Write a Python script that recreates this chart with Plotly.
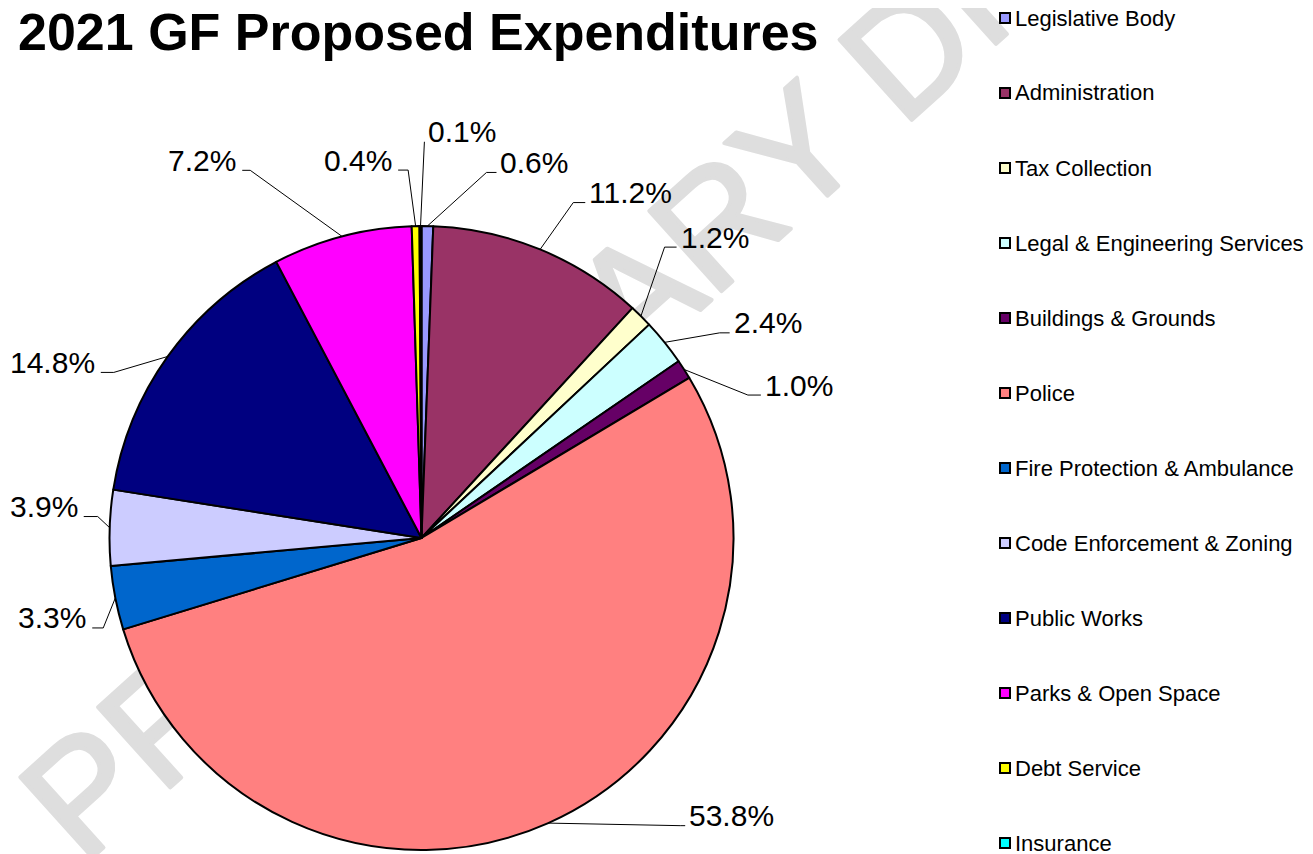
import math
import base64
import plotly.graph_objects as go

# ---------------- data ----------------
categories = [
    "Legislative Body", "Administration", "Tax Collection",
    "Legal & Engineering Services", "Buildings & Grounds", "Police",
    "Fire Protection & Ambulance", "Code Enforcement & Zoning",
    "Public Works", "Parks & Open Space", "Debt Service", "Insurance",
]
shares = [0.6, 11.2, 1.2, 2.4, 1.0, 53.8, 3.3, 3.9, 14.8, 7.2, 0.4, 0.1]
colors = [
    "#9999FF", "#993366", "#FFFFCC", "#CCFFFF", "#660066", "#FF8080",
    "#0066CC", "#CCCCFF", "#000080", "#FF00FF", "#FFFF00", "#00FFFF",
]
title_text = "2021 GF Proposed Expenditures"
watermark_text = "PRELIMINARY DRAFT"

# ---------------- layout constants (page pixels) ----------------
W, H = 1313, 854
OFF = 8                      # default page body margin
FW, FH = W - OFF, H - OFF    # figure size
CX, CY, RAD = 421.5, 538.0, 312.0
# label leader placement: angle nudge (deg), radial factor for elbow, tail length
lbl_nudge = [9.0, 2.0, -4.8, 4.3, 9.05, -18.0, -4.7, 1.9, -7.3, -10.2, -1.0, 0.6]
lbl_dist = [1.19, 1.18, 1.215, 1.16, 1.142, 1.24, 1.06, 1.04, 1.12, 1.30, 1.18, 1.27]
lbl_tail = [10, 12, 12, 10, 13, 5, 11, 14, 13, 8, 10, 0]
LEG_X, LEG_Y0, LEG_DY = 1005, 18, 75
FONT = "Liberation Sans, Arial, sans-serif"


def px(x):
    return (x - OFF) / FW


def py(y):
    return 1 - (y - OFF) / FH


fig = go.Figure()

fig.add_trace(go.Pie(
    labels=categories,
    values=shares,
    sort=False,
    direction="clockwise",
    rotation=0,
    marker=dict(colors=colors, line=dict(color="black", width=2)),
    textinfo="none",
    hoverinfo="label+value",
    showlegend=False,
    domain=dict(x=[px(CX - RAD), px(CX + RAD)], y=[py(CY + RAD), py(CY - RAD)]),
))

shapes = []
annotations = []

# ---------------- legend (drawn from categories / colors) ----------------
for i, (name, col) in enumerate(zip(categories, colors)):
    yc = LEG_Y0 + LEG_DY * i
    shapes.append(dict(
        type="rect", xref="paper", yref="paper",
        x0=px(LEG_X - 5), x1=px(LEG_X + 5), y0=py(yc + 5), y1=py(yc - 5),
        fillcolor=col, line=dict(color="black", width=2),
    ))
    annotations.append(dict(
        text=name, xref="paper", yref="paper",
        x=px(LEG_X + 8), y=py(yc), xanchor="left", yanchor="middle",
        showarrow=False, font=dict(family=FONT, size=22, color="black"),
    ))

# ---------------- labels with leader lines ----------------
total = sum(shares)
cum = 0.0
for i, v in enumerate(shares):
    mid = (cum + v / 2) / total * 360.0
    cum += v
    t = math.radians(mid)
    ex, ey = CX + RAD * math.sin(t), CY - RAD * math.cos(t)
    ang = mid + lbl_nudge[i]
    t2 = math.radians(ang)
    bx = CX + RAD * lbl_dist[i] * math.sin(t2)
    by = CY - RAD * lbl_dist[i] * math.cos(t2)
    right = ang % 360 < 180
    tail = lbl_tail[i] if right else -lbl_tail[i]
    tx = bx + tail
    shapes.append(dict(
        type="path", xref="paper", yref="paper",
        path=f"M {px(ex)} {py(ey)} L {px(bx)} {py(by)} L {px(tx)} {py(by)}",
        line=dict(color="black", width=1),
    ))
    annotations.append(dict(
        text=f"{v:.1f}%", xref="paper", yref="paper",
        x=px(tx + (2 if right else -4)), y=py(by - 10),
        xanchor="left" if right else "right", yanchor="middle",
        showarrow=False, font=dict(family=FONT, size=30, color="black"),
    ))

# ---------------- watermark (behind the pie) ----------------
svg = (
    f'<svg xmlns="http://www.w3.org/2000/svg" width="{FW}" height="{FH}">'
    f'<text transform="translate({83 - OFF},{866 - OFF}) rotate(-42)" x="0" y="0" '
    f'text-anchor="start" font-family="Liberation Sans, Arial, sans-serif" '
    f'font-size="157" fill="#dedede" stroke="#dedede" stroke-width="4" '
    f'stroke-linejoin="round">{watermark_text}</text></svg>'
)
wm_src = "data:image/svg+xml;base64," + base64.b64encode(svg.encode()).decode()

fig.update_layout(
    width=FW, height=FH,
    margin=dict(l=0, r=0, t=0, b=0),
    paper_bgcolor="white",
    plot_bgcolor="rgba(0,0,0,0)",
    showlegend=False,
    title=dict(text=f"<b>{title_text}</b>", x=px(18), xanchor="left",
               y=py(32), yanchor="middle",
               font=dict(family=FONT, size=52, color="black")),
    shapes=shapes,
    annotations=annotations,
    images=[dict(source=wm_src, xref="paper", yref="paper", x=0, y=1,
                 sizex=1, sizey=1, xanchor="left", yanchor="top",
                 sizing="stretch", layer="below")],
)

fig.write_html("out.html")
